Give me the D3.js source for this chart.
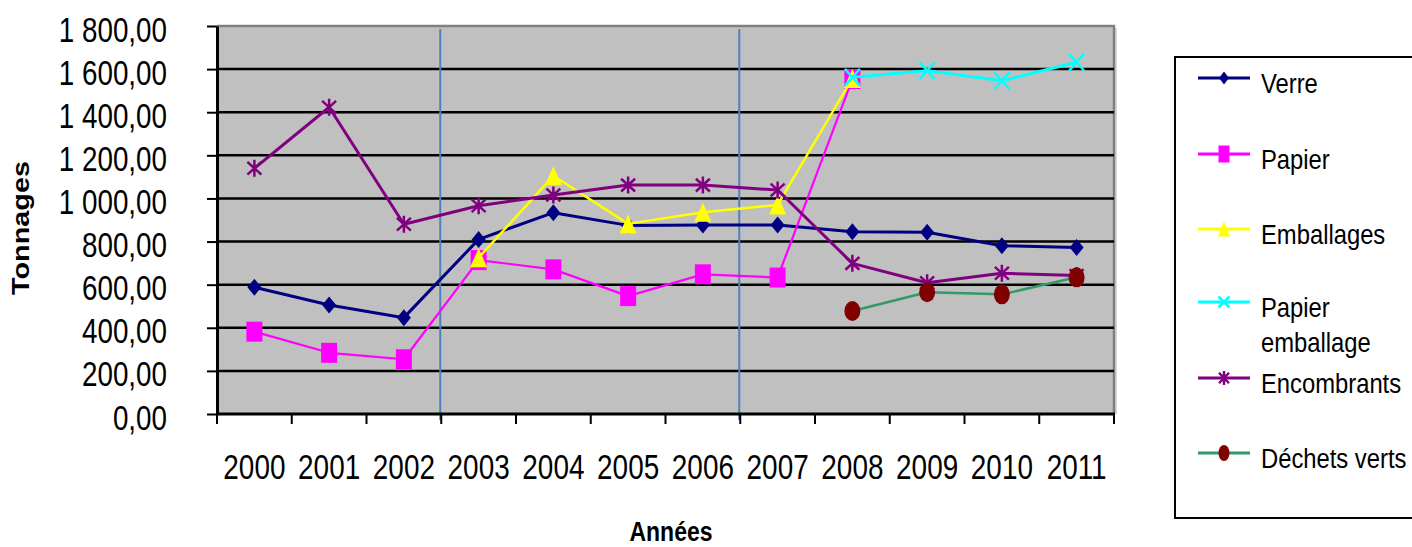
<!DOCTYPE html>
<html>
<head>
<meta charset="utf-8">
<script src="https://cdn.jsdelivr.net/npm/d3@7"></script>
<style>
  body { margin: 0; background: #fff; }
  text { font-family: "Liberation Sans", Arial, sans-serif; }
</style>
</head>
<body>
<div id="chart"></div>
<script>
// data
var years = ["2000", "2001", "2002", "2003", "2004", "2005", "2006", "2007", "2008", "2009", "2010", "2011"];
var seriesNames = ["Verre", "Papier", "Emballages", "Papier emballage", "Encombrants", "Déchets verts"];
var verre = [588, 506, 447, 810, 934, 875, 877, 877, 846, 843, 781, 773];
var papier = [382, 284, 254, 714, 671, 547, 648, 633, 1554, null, null, null];
var emballages = [null, null, null, 725, 1105, 882, 936, 970, 1557, null, null, null];
var papierEmballage = [null, null, null, null, null, null, null, null, 1562, 1593, 1546, 1632];
var encombrants = [1140, 1423, 880, 966, 1016, 1062, 1062, 1039, 699, 609, 653, 642];
var dechetsVerts = [null, null, null, null, null, null, null, null, 478, 565, 555, 634];
var yTicks = [0, 200, 400, 600, 800, 1000, 1200, 1400, 1600, 1800];
var separatorYears = ["2003", "2007"]; // blue vertical lines before these years

var allValues = [verre, papier, emballages, papierEmballage, encombrants, dechetsVerts];

// styles
var colors = ["#000080", "#ff00ff", "#ffff00", "#00ffff", "#800080", "#339966"];
var markerColors = ["#000080", "#ff00ff", "#ffff00", "#00ffff", "#800080", "#800000"];
var markerTypes = ["diamond", "square", "triangle", "x", "star", "circle"];
var lineWidths = [3, 2.2, 2.5, 3, 3, 2.5];
var markerSize = { diamond: [14, 17], square: [16, 20], triangle: [17, 19], x: [15, 17], star: [14, 17], circle: [16, 20] };
var legendMarkerSize = { diamond: [10, 13], square: [11, 17], triangle: [12, 15], x: [11, 11], star: [10, 14], circle: [11, 16] };

var W = 1412, H = 547;
var plot = { left: 217, right: 1114, top: 26, bottom: 414 };
var stretch = 1.27; // the picture's text is taller than it is wide

var svg = d3.select("#chart")
    .append("svg")
    .attr("width", W)
    .attr("height", H);

var x = d3.scaleBand()
    .domain(years)
    .range([plot.left, plot.right]);

var y = d3.scaleLinear()
    .domain([0, 1800])
    .range([plot.bottom, plot.top]);

var fr = d3.formatLocale({ decimal: ",", thousands: " ", grouping: [3] }).format(",.2f");

// plot background
svg.append("rect")
    .attr("x", plot.left)
    .attr("y", plot.top)
    .attr("width", plot.right - plot.left)
    .attr("height", plot.bottom - plot.top)
    .attr("fill", "#c0c0c0");

// right shadow + top/right grey border
svg.append("line")
    .attr("x1", plot.right + 2).attr("x2", plot.right + 2)
    .attr("y1", plot.top + 2).attr("y2", plot.bottom)
    .attr("stroke", "#d8d8d8").attr("stroke-width", 2);
svg.append("path")
    .attr("d", "M" + plot.left + "," + plot.top + "H" + plot.right + "V" + plot.bottom)
    .attr("fill", "none")
    .attr("stroke", "#808080")
    .attr("stroke-width", 2.5);

// horizontal gridlines
svg.selectAll(".grid")
    .data(yTicks.filter(function (d) { return d > 0 && d < 1800; }))
    .enter()
    .append("line")
    .attr("x1", plot.left).attr("x2", plot.right)
    .attr("y1", function (d) { return y(d); })
    .attr("y2", function (d) { return y(d); })
    .attr("stroke", "#000")
    .attr("stroke-width", 2.5);

// blue separators
svg.selectAll(".sep")
    .data(separatorYears)
    .enter()
    .append("line")
    .attr("x1", function (d) { return x(d) - 1; })
    .attr("x2", function (d) { return x(d) - 1; })
    .attr("y1", plot.top + 3)
    .attr("y2", plot.bottom + 6)
    .attr("stroke", "#4f81bd")
    .attr("stroke-width", 2);

// Y axis
var yAxis = svg.append("g")
    .attr("transform", "translate(" + plot.left + ",0)")
    .call(d3.axisLeft(y).tickValues(yTicks).tickSize(10).tickSizeOuter(0).tickFormat(fr));
yAxis.select(".domain").attr("stroke-width", 3);
yAxis.selectAll(".tick line").attr("stroke-width", 2);
yAxis.selectAll(".tick text")
    .attr("x", -50)
    .attr("y", 15 / stretch)
    .attr("dy", null)
    .attr("transform", "scale(1," + stretch + ")")
    .style("font-size", "27.8px")
    .style("font-family", "'Liberation Sans', Arial, sans-serif")
    .attr("fill", "#000");

// X axis (labels at band centres, ticks between categories)
var xAxis = svg.append("g")
    .attr("transform", "translate(0," + plot.bottom + ")")
    .call(d3.axisBottom(x).tickSize(0).tickSizeOuter(0));
xAxis.select(".domain").remove();
xAxis.selectAll(".tick text")
    .attr("y", 65 / stretch)
    .attr("dy", null)
    .attr("transform", "scale(1," + stretch + ")")
    .style("font-size", "27.9px")
    .style("font-family", "'Liberation Sans', Arial, sans-serif")
    .attr("fill", "#000");

var bounds = years.map(function (d) { return x(d); }).concat([plot.right]);
svg.selectAll(".xtick")
    .data(bounds)
    .enter()
    .append("line")
    .attr("x1", function (d) { return d; })
    .attr("x2", function (d) { return d; })
    .attr("y1", plot.bottom)
    .attr("y2", plot.bottom + 10)
    .attr("stroke", "#000")
    .attr("stroke-width", 2);
svg.append("line")
    .attr("x1", plot.left - 1).attr("x2", plot.right + 1)
    .attr("y1", plot.bottom).attr("y2", plot.bottom)
    .attr("stroke", "#000")
    .attr("stroke-width", 3);

// marker shapes
function markerPath(type, w, h) {
    var a = w / 2, b = h / 2;
    if (type === "diamond") return "M0," + (-b) + "L" + a + ",0L0," + b + "L" + (-a) + ",0Z";
    if (type === "square") return "M" + (-a) + "," + (-b) + "H" + a + "V" + b + "H" + (-a) + "Z";
    if (type === "triangle") return "M0," + (-b) + "L" + a + "," + b + "L" + (-a) + "," + b + "Z";
    if (type === "x") return "M" + (-a) + "," + (-b) + "L" + a + "," + b + "M" + a + "," + (-b) + "L" + (-a) + "," + b;
    if (type === "star") return "M" + (-a) + "," + (-b * 0.75) + "L" + a + "," + (b * 0.75) + "M" + a + "," + (-b * 0.75) + "L" + (-a) + "," + (b * 0.75) + "M0," + (-b) + "V" + b;
    return "M" + (-a) + ",0A" + a + "," + b + " 0 1,0 " + a + ",0A" + a + "," + b + " 0 1,0 " + (-a) + ",0Z";
}
function isStroked(type) { return type === "x" || type === "star"; }

var series = seriesNames.map(function (name, i) {
    return {
        name: name,
        values: years.map(function (yr, j) { return { year: yr, value: allValues[i][j] }; })
    };
});

var line = d3.line()
    .defined(function (d) { return d.value !== null; })
    .x(function (d) { return x(d.year) + x.bandwidth() / 2; })
    .y(function (d) { return y(d.value); });

series.forEach(function (s, i) {
    var g = svg.append("g");
    g.append("path")
        .attr("d", line(s.values))
        .attr("fill", "none")
        .attr("stroke", colors[i])
        .attr("stroke-width", lineWidths[i])
        .attr("stroke-linejoin", "round");
    var t = markerTypes[i], sz = markerSize[t];
    g.selectAll("path.mk")
        .data(s.values.filter(function (d) { return d.value !== null; }))
        .enter()
        .append("path")
        .attr("class", "mk")
        .attr("transform", function (d) { return "translate(" + (x(d.year) + x.bandwidth() / 2) + "," + y(d.value) + ")"; })
        .attr("d", markerPath(t, sz[0], sz[1]))
        .attr("fill", isStroked(t) ? "none" : markerColors[i])
        .attr("stroke", isStroked(t) ? markerColors[i] : "none")
        .attr("stroke-width", 2.5);
});

// axis titles
svg.append("text")
    .attr("transform", "translate(29,228) rotate(-90) scale(1.2,1)")
    .attr("text-anchor", "middle")
    .style("font-size", "24px")
    .style("font-weight", "bold")
    .text("Tonnages");

svg.append("text")
    .attr("transform", "translate(671,541) scale(1,1.2)")
    .attr("text-anchor", "middle")
    .style("font-size", "23px")
    .style("font-weight", "bold")
    .text("Années");

// legend
svg.append("rect")
    .attr("x", 1175)
    .attr("y", 57)
    .attr("width", 260)
    .attr("height", 461)
    .attr("fill", "#fff")
    .attr("stroke", "#000")
    .attr("stroke-width", 2);

var legendY = [78, 154, 229, 302, 378, 453];
var legendLines = [["Verre"], ["Papier"], ["Emballages"], ["Papier", "emballage"], ["Encombrants"], ["Déchets verts"]];

var legend = svg.selectAll(".legend")
    .data(series)
    .enter()
    .append("g")
    .attr("transform", function (d, i) { return "translate(0," + legendY[i] + ")"; });

legend.append("line")
    .attr("x1", 1198).attr("x2", 1250)
    .attr("y1", 0).attr("y2", 0)
    .attr("stroke", function (d, i) { return colors[i]; })
    .attr("stroke-width", 3);

legend.append("path")
    .attr("transform", "translate(1224,0)")
    .attr("d", function (d, i) { var t = markerTypes[i], sz = legendMarkerSize[t]; return markerPath(t, sz[0], sz[1]); })
    .attr("fill", function (d, i) { return isStroked(markerTypes[i]) ? "none" : markerColors[i]; })
    .attr("stroke", function (d, i) { return isStroked(markerTypes[i]) ? markerColors[i] : "none"; })
    .attr("stroke-width", 2.5);

legend.each(function (d, i) {
    var g = d3.select(this);
    legendLines[i].forEach(function (txt, k) {
        g.append("text")
            .attr("transform", "translate(1261," + (14.5 + k * 35) + ") scale(1,1.13)")
            .style("font-size", "23.8px")
            .attr("fill", "#000")
            .text(txt);
    });
});
</script>
</body>
</html>
